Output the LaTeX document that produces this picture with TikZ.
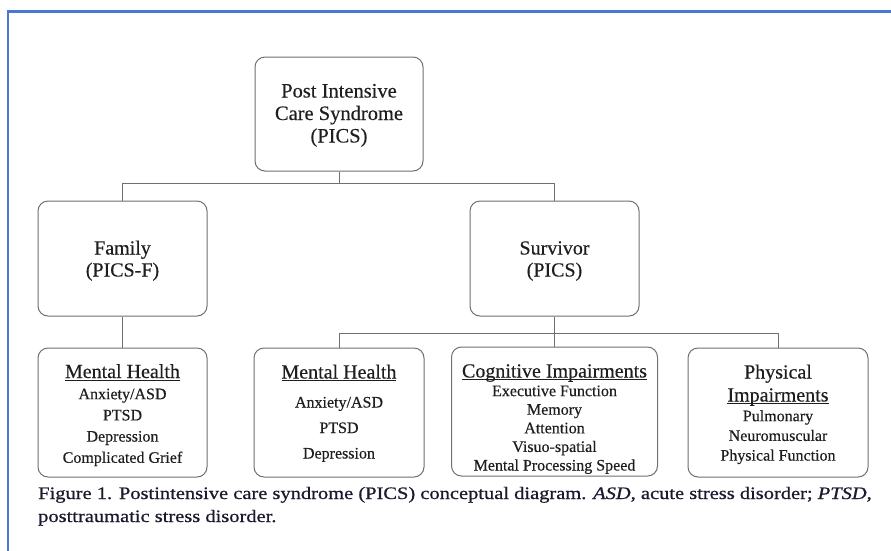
\documentclass[tikz,border=0pt]{standalone}
\usepackage{fontspec}
\setmainfont{Liberation Serif}[FakeBold=0.35]
\newfontfamily\capfont{Liberation Serif}[FakeStretch=1.17, FakeBold=0.7]
\definecolor{framebl}{HTML}{4A78CF}
\definecolor{boxln}{HTML}{707070}
\definecolor{txt}{HTML}{1E1E1E}
\definecolor{captxt}{HTML}{1A1A2E}
\newsavebox\ulbox
\newcommand{\hul}[1]{\sbox\ulbox{#1}\rlap{\rule[-2.4pt]{\wd\ulbox}{0.9pt}}\usebox\ulbox}
% #1 raise of first baseline above node centre, #2 font size, #3 line pitch, #4 lines
\newcommand{\boxtext}[4]{\raisebox{#1}[0pt][0pt]{\fontsize{#2}{#3}\selectfont\begin{tabular}[t]{@{}c@{}}#4\end{tabular}}}
\newcommand{\hd}[1]{{\fontsize{20}{21}\selectfont #1}}
\begin{document}
\begin{tikzpicture}[x=1pt,y=-1pt,
  box/.style={draw=boxln, line width=1pt, rounded corners=10pt, text=txt, inner sep=0pt},
  conn/.style={draw=boxln, line width=1pt},
  captext/.style={anchor=base west, inner sep=0pt, text=captxt, font=\capfont\fontsize{17.5}{21}\selectfont}]
\useasboundingbox[fill=white] (0,0) rectangle (891,550);
\draw[framebl, line width=2.6pt] (8,551) -- (8,11.3) -- (892,11.3);

\node[box, minimum width=168pt, minimum height=114pt] (pics) at (339,114)
  {\boxtext{16.5pt}{20.5}{22.5}{Post Intensive\\Care Syndrome\\(PICS)}};
\node[box, minimum width=169pt, minimum height=115pt] (fam) at (122.5,258.5)
  {\boxtext{4pt}{20}{22}{Family\\(PICS-F)}};
\node[box, minimum width=169pt, minimum height=115pt] (surv) at (554.5,258.5)
  {\boxtext{4pt}{20}{22}{Survivor\\(PICS)}};

\node[box, minimum width=169pt, minimum height=129pt] (fmh) at (122.5,412.5)
  {\boxtext{34.5pt}{16}{21.2}{\hd{\hul{Mental Health}}\\Anxiety/ASD\\PTSD\\Depression\\Complicated Grief}};
\node[box, minimum width=170pt, minimum height=129pt] (smh) at (339,412.5)
  {\boxtext{34pt}{16}{25.5}{\hd{\hul{Mental Health}}\\[3.5pt]Anxiety/ASD\\PTSD\\Depression}};
\node[box, minimum width=206pt, minimum height=129pt] (cog) at (554.5,411.5)
  {\boxtext{34pt}{16}{18.6}{\hd{\hul{Cognitive Impairments}}\\Executive Function\\Memory\\Attention\\Visuo-spatial\\Mental Processing Speed}};
\node[box, minimum width=180pt, minimum height=129pt] (phy) at (778,412.5)
  {\boxtext{34pt}{16}{19.7}{\hd{Physical}\\[3.3pt]\hd{\hul{Impairments}}\\Pulmonary\\Neuromuscular\\Physical Function}};

\draw[conn] (pics.south) -- ++(0,12) coordinate (j1);
\draw[conn] (j1) -| (fam.north);
\draw[conn] (j1) -| (surv.north);
\draw[conn] (fam.south) -- (fmh.north);
\draw[conn] (surv.south) -- ++(0,17) coordinate (j2);
\draw[conn] (j2) -| (smh.north);
\draw[conn] (j2) -- (cog.north);
\draw[conn] (j2) -| (phy.north);

\node[captext] (cap1) at (38,499) {Figure 1. Postintensive care syndrome (PICS) conceptual diagram. \textit{ASD}, acute stress disorder; \textit{PTSD},};
\node[captext] (cap2) at (38,522) {posttraumatic stress disorder.};
\end{tikzpicture}
\end{document}
